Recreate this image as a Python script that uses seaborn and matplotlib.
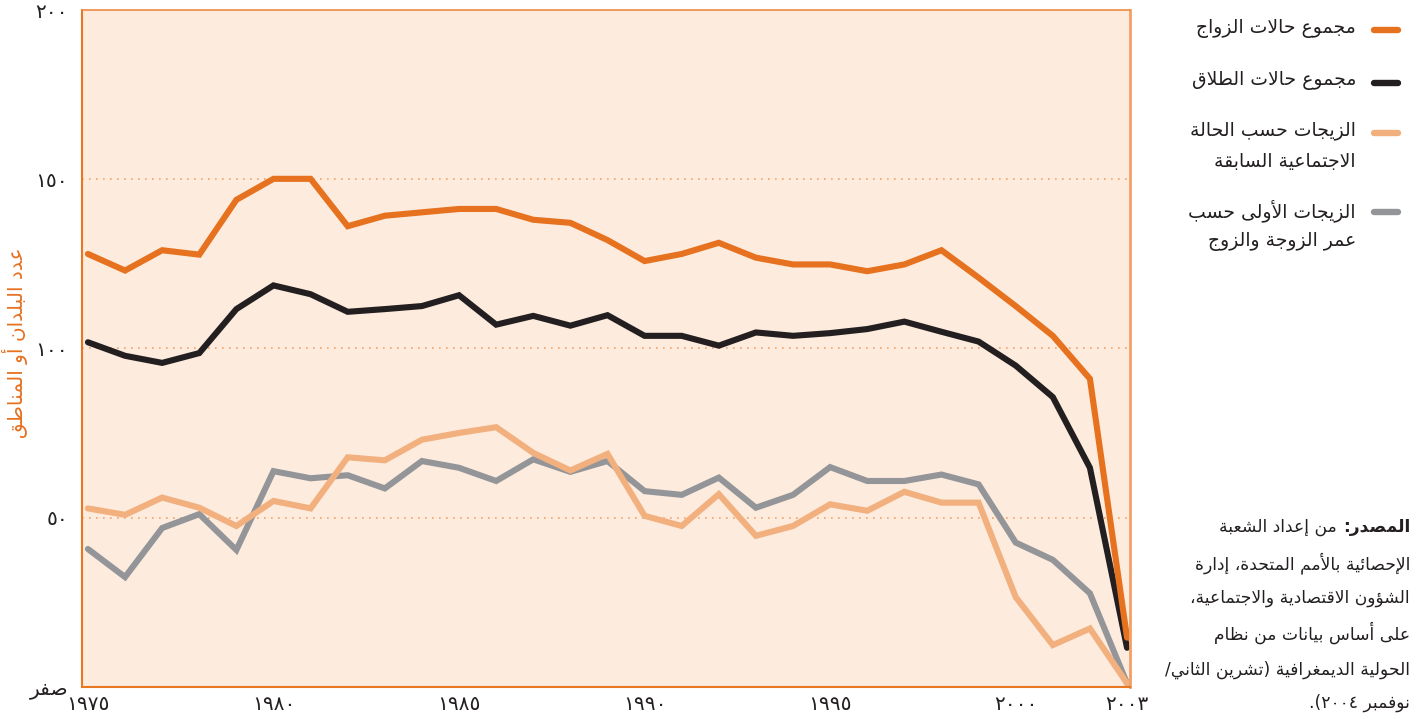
import re
import numpy as np
import pandas as pd
import matplotlib
matplotlib.use("Agg")
import matplotlib.pyplot as plt
from matplotlib.lines import Line2D
import seaborn as sns

# ---------------- data ----------------
years = list(range(1975, 2004))
total_marriages = [127.9, 123.0, 129.0, 127.7, 143.9, 150.1, 150.1, 136.1, 139.2, 140.2,
                   141.2, 141.2, 138.0, 137.1, 132.0, 125.8, 127.9, 131.2, 126.8, 124.8,
                   124.8, 122.8, 124.8, 129.0, 120.9, 112.5, 103.7, 91.0, 14.5]
total_divorces = [101.8, 97.8, 95.7, 98.6, 111.6, 118.6, 116.0, 110.8, 111.6, 112.5,
                  115.7, 107.0, 109.6, 106.7, 109.8, 103.7, 103.7, 100.8, 104.7, 103.7,
                  104.5, 105.7, 107.9, 104.9, 102.0, 94.9, 85.6, 64.7, 11.5]
by_prev_status = [52.7, 50.8, 55.9, 52.9, 47.5, 54.9, 52.7, 67.8, 66.9, 73.0,
                  75.0, 76.7, 69.1, 63.9, 68.8, 50.5, 47.5, 56.9, 44.6, 47.5,
                  53.9, 52.0, 57.6, 54.4, 54.4, 26.5, 12.3, 17.2, 1.0]
first_by_age = [40.7, 32.4, 46.9, 51.0, 40.4, 63.7, 61.6, 62.5, 58.6, 66.7,
                64.7, 60.8, 67.2, 63.5, 66.7, 57.8, 56.7, 61.8, 52.9, 56.7,
                64.9, 60.8, 60.8, 62.7, 59.8, 42.6, 37.5, 27.6, 1.0]

series_labels = ["مجموع حالات الزواج",
                 "مجموع حالات الطلاق",
                 "الزيجات حسب الحالة\nالاجتماعية السابقة",
                 "الزيجات الأولى حسب\nعمر الزوجة والزوج"]
series_colors = ["#E6711F", "#231F20", "#F2B07F", "#939598"]

y_ticks = [0, 50, 100, 150, 200]
y_ticklabels = ["صفر", "٥٠", "١٠٠", "١٥٠", "٢٠٠"]
x_ticks = [1975, 1980, 1985, 1990, 1995, 2000, 2003]
x_ticklabels = ["١٩٧٥", "١٩٨٠", "١٩٨٥", "١٩٩٠", "١٩٩٥", "٢٠٠٠", "٢٠٠٣"]
y_title = "عدد البلدان أو المناطق"
source_lines = ["من إعداد الشعبة",
                "الإحصائية بالأمم المتحدة، إدارة",
                "الشؤون الاقتصادية والاجتماعية،",
                "على أساس بيانات من نظام",
                "الحولية الديمغرافية (تشرين الثاني/",
                "نوفمبر ٢٠٠٤)."]
source_head = "المصدر:"

# ------------- minimal Arabic shaping (presentation forms + RTL order) -------------
_base = [('ء', 0xFE80, 1), ('آ', 0xFE81, 2), ('أ', 0xFE83, 2), ('ؤ', 0xFE85, 2),
         ('إ', 0xFE87, 2), ('ئ', 0xFE89, 4), ('ا', 0xFE8D, 2), ('ب', 0xFE8F, 4),
         ('ة', 0xFE93, 2), ('ت', 0xFE95, 4), ('ث', 0xFE99, 4), ('ج', 0xFE9D, 4),
         ('ح', 0xFEA1, 4), ('خ', 0xFEA5, 4), ('د', 0xFEA9, 2), ('ذ', 0xFEAB, 2),
         ('ر', 0xFEAD, 2), ('ز', 0xFEAF, 2), ('س', 0xFEB1, 4), ('ش', 0xFEB5, 4),
         ('ص', 0xFEB9, 4), ('ض', 0xFEBD, 4), ('ط', 0xFEC1, 4), ('ظ', 0xFEC5, 4),
         ('ع', 0xFEC9, 4), ('غ', 0xFECD, 4), ('ف', 0xFED1, 4), ('ق', 0xFED5, 4),
         ('ك', 0xFED9, 4), ('ل', 0xFEDD, 4), ('م', 0xFEE1, 4), ('ن', 0xFEE5, 4),
         ('ه', 0xFEE9, 4), ('و', 0xFEED, 2), ('ى', 0xFEEF, 2), ('ي', 0xFEF1, 4)]
FORMS = {c: (b, n) for c, b, n in _base}
LAMALEF = {'آ': 0xFEF5, 'أ': 0xFEF7, 'إ': 0xFEF9, 'ا': 0xFEFB}


def _shape(s):
    toks = []
    i = 0
    while i < len(s):
        c = s[i]
        if c == 'ل' and i + 1 < len(s) and s[i + 1] in LAMALEF:
            toks.append(('LA', s[i + 1]))
            i += 2
        else:
            toks.append(('C', c))
            i += 1

    def jt(tok):
        kind, c = tok
        if kind == 'LA':
            return 'R'
        if c == '\u0640':
            return 'D'
        if c in FORMS:
            n = FORMS[c][1]
            return 'D' if n == 4 else ('R' if n == 2 else 'U')
        return 'U'

    out = []
    for k, tok in enumerate(toks):
        t = jt(tok)
        prev = jt(toks[k - 1]) if k > 0 else 'U'
        nxt = jt(toks[k + 1]) if k + 1 < len(toks) else 'U'
        cp = t in 'DR' and prev == 'D'
        cn = t == 'D' and nxt in 'DR'
        kind, c = tok
        if kind == 'LA':
            out.append(chr(LAMALEF[c] + (1 if cp else 0)))
        elif c in FORMS:
            base, n = FORMS[c]
            if n == 1:
                idx = 0
            elif n == 2:
                idx = 1 if cp else 0
            else:
                idx = 3 if (cp and cn) else 1 if cp else 2 if cn else 0
            out.append(chr(base + idx))
        else:
            out.append(c)
    return ''.join(out)


def ar(s):
    lines = []
    for line in s.split('\n'):
        sh = _shape(line)
        mirror = {'(': ')', ')': '('}
        r = ''.join(mirror.get(c, c) for c in reversed(sh))
        r = re.sub(r'[0-9\u0660-\u0669]+', lambda m: m.group(0)[::-1], r)
        lines.append(r)
    return '\n'.join(lines)


# ---------------- plot ----------------
sns.set_theme(style="white")
plt.rcParams['font.family'] = ['DejaVu Sans']

W, H = 1419, 719
fig = plt.figure(figsize=(W / 100, H / 100), dpi=100)
ax = fig.add_axes([82 / W, 1 - 686.7 / H, (1130 - 82) / W, (686.7 - 10) / H])
ax.set_facecolor("#FDEBDD")

keys = ["marr", "div", "prev", "first"]
df = pd.DataFrame({
    "year": years * 4,
    "value": total_marriages + total_divorces + by_prev_status + first_by_age,
    "series": sum([[k] * len(years) for k in keys], []),
})
palette = dict(zip(keys, series_colors))
order = ["first", "prev", "div", "marr"]
for k in order:
    sns.lineplot(data=df[df.series == k], x="year", y="value", color=palette[k],
                 linewidth=4.4, ax=ax, legend=False)
for ln in ax.get_lines():
    ln.set_solid_capstyle('round')
    ln.set_solid_joinstyle('miter')

ax.set_xlim(1974.84, 2003.08)
ax.set_ylim(0, 200)

for yv in [50, 100, 150]:
    ax.axhline(yv, color="#F2A36A", linewidth=1.2, linestyle=(0, (1, 3.2)), zorder=0.5)

for side in ["left", "bottom"]:
    ax.spines[side].set_color("#E87722")
    ax.spines[side].set_linewidth(1.5)
ax.spines["top"].set_color("#EE8A45")
ax.spines["top"].set_linewidth(1.2)
ax.spines["right"].set_color("#F2A065")
ax.spines["right"].set_linewidth(2.0)

ax.set_yticks(y_ticks)
ax.set_yticklabels([ar(t) for t in y_ticklabels], fontsize=14.5, color="#231F20")
ax.set_xticks(x_ticks)
ax.set_xticklabels([ar(t) for t in x_ticklabels], fontsize=14.5, color="#231F20")
ax.tick_params(axis='y', length=0, pad=10)
ax.tick_params(axis='x', direction='in', length=8, width=1.2, color="#E87722", pad=6)
ax.set_xlabel("")
ax.set_ylabel("")


def fx(px):
    return px / W


def fy(py):
    return 1 - py / H


fig.text(fx(15), fy(343), ar(y_title), rotation=90, ha='center', va='center',
         color="#E6711F", fontsize=14.5)

# ---------------- legend (right side) ----------------
legend_rows = [(30, [28]), (83, [80]), (133, [131, 161]), (212, [211, 241])]
for (sy, text_ys), lab, col in zip(legend_rows, series_labels, series_colors):
    fig.add_artist(Line2D([fx(1374), fx(1398)], [fy(sy), fy(sy)], color=col, linewidth=4.6,
                          solid_capstyle='round', transform=fig.transFigure))
    for line, ty in zip(lab.split('\n'), text_ys):
        fig.text(fx(1356), fy(ty), ar(line), ha='right', va='center', fontsize=13.5,
                 color="#231F20")

# ---------------- source note ----------------
src_ys = [527, 563, 598, 633, 670, 703]
head = fig.text(fx(1410), fy(src_ys[0]), ar(source_head), ha='right', va='center',
                fontsize=12.3, fontweight='bold', color="#231F20")
fig.canvas.draw()
bb = head.get_window_extent()
fig.text(fx(bb.x0 - 6), fy(src_ys[0]), ar(source_lines[0]), ha='right', va='center',
         fontsize=12.3, color="#231F20")
for line, ty in zip(source_lines[1:], src_ys[1:]):
    fig.text(fx(1410), fy(ty), ar(line), ha='right', va='center', fontsize=12.3,
             color="#231F20")

fig.savefig("out.png", dpi=100, facecolor="white")
